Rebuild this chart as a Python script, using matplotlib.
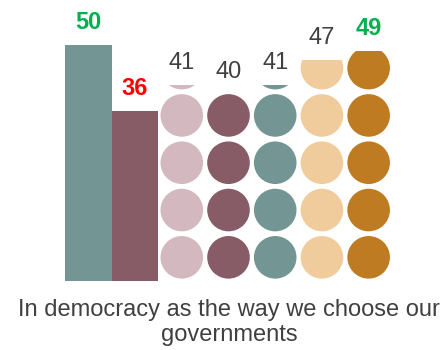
import matplotlib
matplotlib.use("Agg")
import matplotlib.pyplot as plt
from matplotlib.patches import Ellipse, Rectangle

plt.rcParams["font.family"] = ["Liberation Sans", "DejaVu Sans"]

# Data
bar_values = [50, 36]
dot_values = [41, 40, 41, 47, 49]
title_lines = ["In democracy as the way we choose our", "governments"]

# Styles
bar_colors = ["#739694", "#875C66"]
dot_colors = ["#D3B9BF", "#875C66", "#739694", "#F0CC9C", "#BE7B22"]
label_colors = ["#00B050", "#FF0000", "#404040", "#404040", "#404040", "#404040", "#00B050"]
label_bold = [True, True, False, False, False, False, True]

W, H, DPI = 446, 350, 100
fig = plt.figure(figsize=(W / DPI, H / DPI), dpi=DPI)
left_px, bottom_px, width_px, height_px = 65, 281, 327, 236.5
ax = fig.add_axes([left_px / W, (H - bottom_px) / H, width_px / W, height_px / H])
n_slots = len(bar_values) + len(dot_values)
ax.set_xlim(-0.5, n_slots - 0.5)
ax.set_ylim(0, 50)
ax.axis("off")

px_per_x = width_px / n_slots
px_per_y = height_px / 50

unit = 10          # value represented by one circle
diam_px = 42.6
pad = 0.5          # gap below each circle, in value units
circ_w = diam_px / px_per_x
circ_h = diam_px / px_per_y

tops = []
# Bars
for i, v in enumerate(bar_values):
    ax.bar(i, v, width=1.0, color=bar_colors[i], linewidth=0)
    tops.append(v)

# Pictograph columns
for j, v in enumerate(dot_values):
    x = len(bar_values) + j
    full, frac = divmod(v, unit)
    frac = frac / unit
    for k in range(full):
        ax.add_patch(Ellipse((x, k * unit + pad + circ_h / 2), circ_w, circ_h,
                             color=dot_colors[j], linewidth=0))
    top = (full - 1) * unit + pad + circ_h
    if frac > 0:
        y0 = full * unit + pad
        visible = circ_h * frac
        e = Ellipse((x, y0 + circ_h / 2), circ_w, circ_h,
                    color=dot_colors[j], linewidth=0)
        ax.add_patch(e)
        clip = Rectangle((x - 0.5, full * unit), 1.0, pad + visible,
                         transform=ax.transData, fill=False)
        e.set_clip_path(clip)
        top = y0 + visible
    tops.append(top)

# Value labels
all_values = bar_values + dot_values
for i, (v, top) in enumerate(zip(all_values, tops)):
    ax.annotate(str(v), (i, top), xytext=(0, 11.5), textcoords="offset points",
                ha="center", va="baseline", fontsize=17,
                color=label_colors[i],
                fontweight="bold" if label_bold[i] else "normal",
                annotation_clip=False)

# Caption
fig.text(229 / W, 1 - 316 / H, title_lines[0], ha="center", va="baseline",
         fontsize=17, color="#404040")
fig.text(229 / W, 1 - 341 / H, title_lines[1], ha="center", va="baseline",
         fontsize=17, color="#404040")

fig.savefig("out.png", dpi=DPI)
